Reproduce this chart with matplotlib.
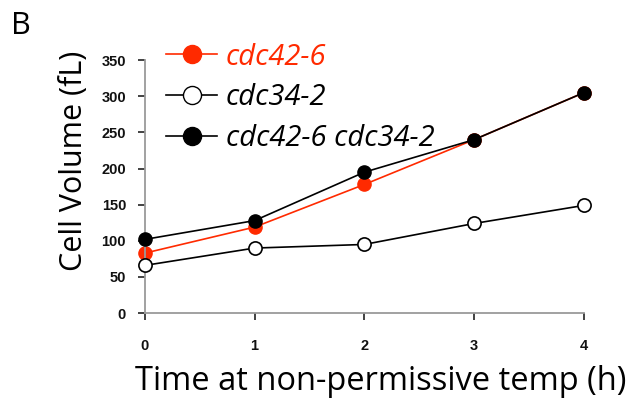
import matplotlib.pyplot as plt
from matplotlib.lines import Line2D

hours = [0, 1, 2, 3, 4]
cdc42 = [83, 119, 178, 240, 305]
cdc34 = [66, 90, 95, 124, 149]
double = [102, 128, 195, 240, 305]
yticks = [0, 50, 100, 150, 200, 250, 300, 350]
red = '#ff2a00'

fig = plt.figure(figsize=(6.38, 4.04), dpi=100)
ax = fig.add_axes([0.227, 0.225, 0.688, 0.626])

# red underneath, then open circles, solid black on top
ax.plot(hours, cdc42, color=red, lw=1.2, marker='o', ms=9.5,
        mfc=red, mec=red, zorder=2, clip_on=False)
ax.plot(hours, cdc34, color='black', lw=1.2, marker='o', ms=9.5,
        mfc='white', mec='black', mew=1.2, zorder=3, clip_on=False)
ax.plot(hours, double, color='black', lw=1.2, marker='o', ms=9.5,
        mfc='black', mec='black', zorder=4, clip_on=False)

ax.set_xlim(0, 4)
ax.set_ylim(0, 350)
ax.set_xticks(hours)
ax.set_yticks(yticks)
ax.tick_params(labelsize=10.5, length=5, width=1.2, color='#222222')
ax.tick_params(axis='x', pad=14)
ax.tick_params(axis='y', pad=8.5)
for lab in ax.get_xticklabels() + ax.get_yticklabels():
    lab.set_family('Liberation Sans')
    lab.set_weight('bold')
    lab.set_color('#111111')
for s in ['top', 'right']:
    ax.spines[s].set_visible(False)
for s in ['left', 'bottom']:
    ax.spines[s].set_color('#9a9a9a')
    ax.spines[s].set_linewidth(1.3)

ax.set_xlabel('Time at non-permissive temp (h)', fontsize=23.5, family='Open Sans')
ax.set_ylabel('Cell Volume (fL)', fontsize=22, family='Open Sans')
ax.xaxis.set_label_coords(0.537, -0.205)
ax.yaxis.set_label_coords(-0.128, 0.60)

handles = [
    Line2D([], [], color=red, lw=1.2, marker='o', ms=13, mfc=red, mec=red),
    Line2D([], [], color='black', lw=1.2, marker='o', ms=13, mfc='white', mec='black'),
    Line2D([], [], color='black', lw=1.2, marker='o', ms=13, mfc='black', mec='black'),
]
leg = ax.legend(handles, ['cdc42-6', 'cdc34-2', 'cdc42-6 cdc34-2'],
                loc='upper left', bbox_to_anchor=(0.022, 1.116), frameon=False,
                prop={'family': 'Open Sans', 'style': 'italic', 'size': 21},
                handlelength=1.75, handletextpad=0.3, labelspacing=0.4, borderaxespad=0)
leg.get_texts()[0].set_color(red)

fig.text(0.018, 0.915, 'B', fontsize=22, family='Open Sans')

fig.savefig('out.png', dpi=100)
